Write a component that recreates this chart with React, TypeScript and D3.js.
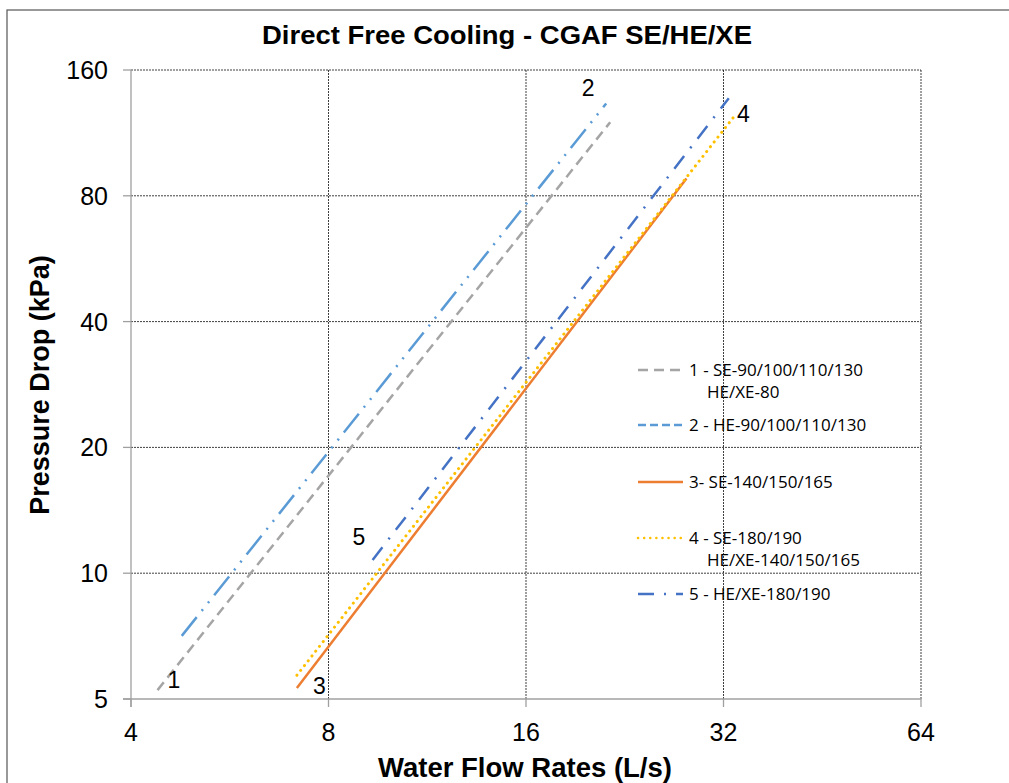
import React from "react";
import * as d3 from "d3";

const xTicks = [4, 8, 16, 32, 64];
const yTicks = [5, 10, 20, 40, 80, 160];

const seriesNames = [
  "1 - SE-90/100/110/130|HE/XE-80",
  "2 - HE-90/100/110/130",
  "3- SE-140/150/165",
  "4 - SE-180/190|HE/XE-140/150/165",
  "5 - HE/XE-180/190",
];
const seriesIds = ["1", "2", "3", "4", "5"];
const flowStart = [4.39, 4.78, 7.16, 7.16, 9.34];
const flowEnd = [21.5, 21.2, 28.1, 33.1, 32.6];
const dropStart = [5.25, 7.08, 5.31, 5.7, 10.76];
const dropEnd = [120, 133, 88, 123, 137];
const colors = ["#A5A5A5", "#5B9BD5", "#ED7D31", "#FFC000", "#4472C4"];
const dashes = ["10 6", "24 8 2 8 2 8", "", "0.1 6", "16 10 2 10"];
const legendDashes = ["10 6", "8 4", "", "0.1 6", "16 10 2 10"];
// label anchors (flow, drop)
const labelFlow = [4.65, 19.9, 7.75, 34.3, 8.9];
const labelDrop = [5.3, 139, 5.15, 120, 11.7];

export default function App() {
  const W = 1009, H = 783;
  const x = d3.scaleLog().base(2).domain([4, 64]).range([131, 921]);
  const y = d3.scaleLog().base(2).domain([5, 160]).range([699, 70]);
  const line = d3.line<[number, number]>().x(d => x(d[0])).y(d => y(d[1]));
  const legendY = [370, 425, 482, 538, 594];
  const font = "'Liberation Sans', Arial, sans-serif";
  const legFont = "'Open Sans', 'Noto Sans', sans-serif";
  return (
    <svg width={W} height={H} style={{ position: "absolute", left: 0, top: 0, background: "#fff" }}>
      <rect x={7} y={10} width={1010} height={790} fill="#fff" stroke="#555" strokeWidth={1.2} />
      <text x={507} y={44} textAnchor="middle" fontFamily={font} fontWeight="bold" fontSize={25} textLength={490} lengthAdjust="spacingAndGlyphs" fill="#000">Direct Free Cooling - CGAF SE/HE/XE</text>
      {/* grid */}
      {yTicks.slice(1).map(t => (
        <line key={"gy" + t} x1={131} x2={921} y1={y(t)} y2={y(t)} stroke="#000" strokeWidth={1} strokeDasharray="2 1" opacity={0.75} />
      ))}
      {xTicks.slice(1).map(t => (
        <line key={"gx" + t} x1={x(t)} x2={x(t)} y1={70} y2={699} stroke="#000" strokeWidth={1} strokeDasharray="2 1" opacity={0.75} />
      ))}
      {/* axes */}
      <line x1={131} x2={131} y1={70} y2={707} stroke="#A0A0A0" strokeWidth={1.3} />
      <line x1={123} x2={921} y1={699} y2={699} stroke="#A0A0A0" strokeWidth={1.3} />
      {yTicks.map(t => (
        <g key={"ty" + t}>
          <line x1={123} x2={131} y1={y(t)} y2={y(t)} stroke="#A0A0A0" strokeWidth={1.3} />
          <text x={108} y={y(t) + 9} textAnchor="end" fontFamily={font} fontSize={25} fill="#000">{t}</text>
        </g>
      ))}
      {xTicks.map(t => (
        <g key={"tx" + t}>
          <line x1={x(t)} x2={x(t)} y1={699} y2={707} stroke="#A0A0A0" strokeWidth={1.3} />
          <text x={x(t)} y={741} textAnchor="middle" fontFamily={font} fontSize={25} fill="#000">{t}</text>
        </g>
      ))}
      <text x={525} y={777} textAnchor="middle" fontFamily={font} fontWeight="bold" fontSize={27.5} fill="#000">Water Flow Rates (L/s)</text>
      <text transform="translate(49,385) rotate(-90)" textAnchor="middle" fontFamily={font} fontWeight="bold" fontSize={27} fill="#000">Pressure Drop (kPa)</text>
      {/* series */}
      {seriesIds.map((id, i) => (
        <path key={"s" + id} d={line([[flowStart[i], dropStart[i]], [flowEnd[i], dropEnd[i]]]) || ""}
          fill="none" stroke={colors[i]} strokeWidth={i === 3 ? 3 : 2.5}
          strokeDasharray={dashes[i] || undefined} strokeLinecap={i === 3 ? "round" : "butt"} />
      ))}
      {seriesIds.map((id, i) => (
        <text key={"l" + id} x={x(labelFlow[i])} y={y(labelDrop[i])} textAnchor="middle" fontFamily={font} fontSize={23} fill="#000">{id}</text>
      ))}
      {/* legend */}
      {seriesNames.map((n, i) => {
        const parts = n.split("|");
        return (
          <g key={"lg" + i}>
            <line x1={638} x2={683} y1={legendY[i]} y2={legendY[i]} stroke={colors[i]} strokeWidth={2.5}
              strokeDasharray={legendDashes[i] || undefined} strokeLinecap={i === 3 ? "round" : "butt"} />
            <text x={689} y={legendY[i] + 6} fontFamily={legFont} fontSize={17} fill="#000">{parts[0]}</text>
            {parts[1] && <text x={707} y={legendY[i] + 28} fontFamily={legFont} fontSize={17} fill="#000">{parts[1]}</text>}
          </g>
        );
      })}
    </svg>
  );
}
